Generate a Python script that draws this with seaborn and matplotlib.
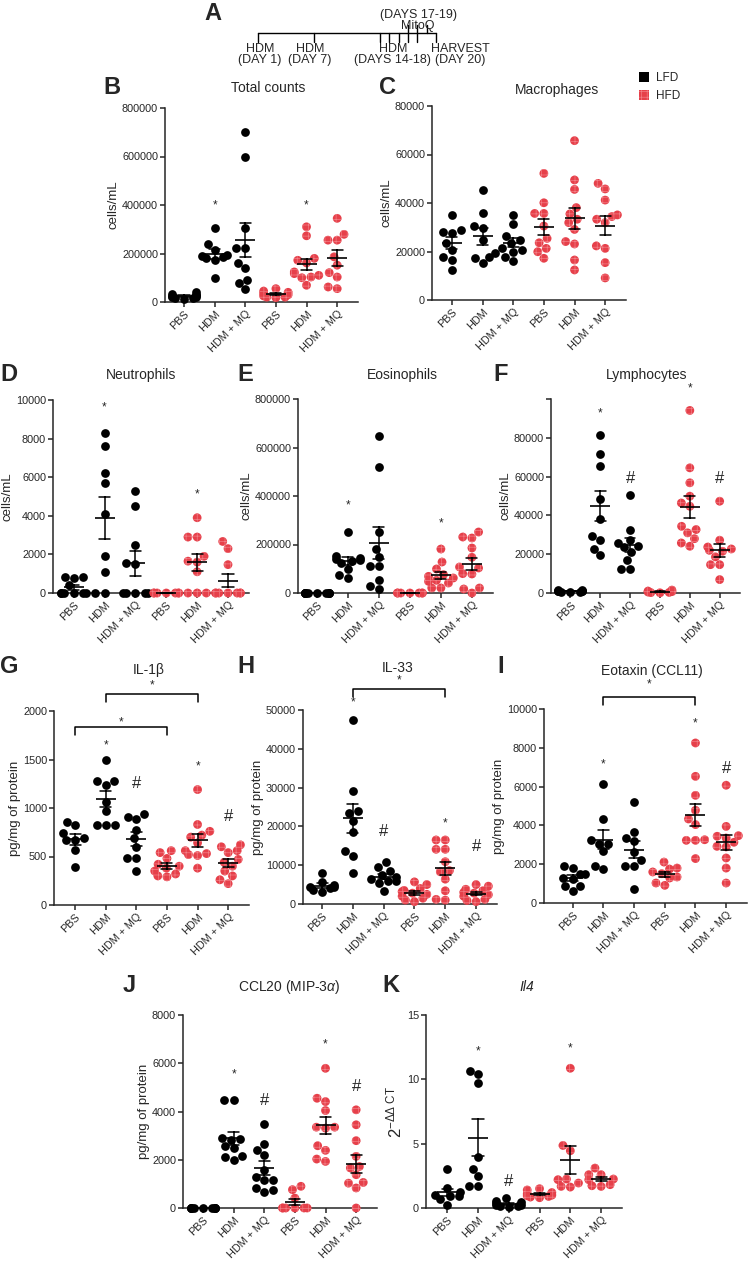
import warnings
import numpy as np
import pandas as pd
import matplotlib
matplotlib.use("Agg")
import matplotlib.pyplot as plt
from matplotlib.patches import Patch, Rectangle
import seaborn as sns

warnings.filterwarnings("ignore")

W, H = 750, 1268
RED = "#E6404A"
PINK = "#F27F86"

group_keys = ["LFD PBS", "LFD HDM", "LFD HDM+MQ", "HFD PBS", "HFD HDM", "HFD HDM+MQ"]
group_labels = ["PBS", "HDM", "HDM + MQ", "PBS", "HDM", "HDM + MQ"]

# timeline (panel A)
hdm_days = [1, 7, 14, 15, 16, 17, 18]
mitoq_days = [17, 18, 19]
harvest_day = 20

# values per group: LFD PBS, LFD HDM, LFD HDM+MQ, HFD PBS, HFD HDM, HFD HDM+MQ
total_counts = [
    [15000, 20000, 25000, 30000, 35000, 18000, 22000, 12000, 28000, 40000],
    [307000, 238000, 215000, 195000, 190000, 180000, 175000, 185000, 97000],
    [700000, 596000, 307000, 221000, 221000, 161000, 141000, 90000, 80000, 55000],
    [55000, 45000, 40000, 35000, 30000, 25000, 20000, 20000, 18000],
    [310000, 273000, 180000, 172000, 161000, 124000, 117000, 110000, 103000, 100000, 69000],
    [345000, 279000, 255000, 255000, 186000, 152000, 121000, 103000, 62000, 55000],
]
macrophages = [
    [35000, 29000, 28000, 27800, 23400, 20600, 17900, 16500, 12400],
    [45400, 35700, 30500, 29600, 24700, 19500, 17900, 17200, 15400],
    [35000, 31200, 26400, 24700, 23400, 21300, 20600, 19900, 17900, 16200],
    [52200, 40100, 35700, 35700, 30500, 25400, 23600, 21300, 19900, 17200],
    [65700, 49500, 45600, 38100, 35500, 33300, 31900, 29100, 24100, 23100, 16500, 12400],
    [48100, 45800, 41200, 35100, 34400, 33300, 31900, 22300, 21300, 15400, 9100],
]
neutrophils = [
    [850, 830, 800, 400, 0, 0, 0, 0, 0, 0],
    [8300, 7600, 6200, 5700, 4100, 1900, 1100, 0, 0],
    [5300, 4500, 2500, 1550, 1500, 0, 0, 0, 0, 0],
    [0, 0, 0, 0, 0, 0, 0],
    [3900, 2900, 2900, 1900, 1650, 1600, 1100, 0, 0, 0],
    [2670, 2300, 1470, 0, 0, 0, 0, 0, 0, 0],
]
eosinophils = [
    [1500, 1200, 1000, 800, 600, 500, 400, 300, 200, 100],
    [251600, 151200, 144300, 140200, 137500, 130600, 123700, 99000, 72800, 61900],
    [649000, 519600, 250200, 181400, 147100, 110000, 110000, 55000, 27500, 16500],
    [0, 0, 0, 0, 0, 0, 0],
    [181400, 127800, 99000, 75600, 68700, 61900, 52200, 48100, 41200, 20600, 20600],
    [251600, 231000, 226800, 185600, 147100, 107200, 103100, 79700, 78300, 20600, 16500, 0],
]
lymphocytes = [
    [1500, 1300, 1200, 1000, 900, 800, 700, 600, 500],
    [81200, 71400, 65700, 48200, 38200, 29600, 27200, 22900, 19800],
    [50750, 32700, 27500, 25800, 24100, 23700, 21000, 16900, 12600, 12600],
    [1500, 1000, 700, 500, 300, 200, 100],
    [94100, 64500, 56800, 49900, 46400, 44700, 34400, 32700, 31000, 28000, 25800, 24100],
    [47300, 27200, 23700, 22700, 22000, 21500, 18600, 14600, 14600, 6900],
]
il1b = [
    [858, 823, 738, 686, 669, 669, 566, 394],
    [1500, 1280, 1280, 1240, 1064, 970, 823, 823, 823],
    [937, 910, 882, 772, 686, 600, 487, 487, 353],
    [560, 540, 480, 420, 400, 380, 350, 320, 300, 290],
    [1190, 830, 760, 720, 700, 640, 560, 530, 520, 510, 380],
    [620, 600, 560, 540, 470, 440, 400, 350, 300, 260, 220],
]
il33 = [
    [8000, 5600, 5000, 4500, 4300, 4000, 3500, 3000],
    [47400, 29200, 24000, 23500, 21500, 18500, 13700, 12500, 8100],
    [10900, 9600, 8600, 7500, 6900, 6400, 6000, 5800, 5300, 3400],
    [5700, 5000, 4000, 3500, 3200, 2800, 2500, 2000, 1500, 1000, 600],
    [16500, 16500, 14100, 14100, 10900, 8600, 8300, 6400, 3400, 1200, 1000],
    [5000, 4600, 3800, 3400, 3000, 2800, 2400, 2000, 1200, 900, 600],
]
eotaxin = [
    [1920, 1800, 1510, 1500, 1290, 1240, 860, 860, 600],
    [6130, 4330, 3260, 3060, 3060, 2660, 1890, 1750],
    [5210, 3640, 3350, 3180, 2630, 2200, 1890, 1890, 720],
    [2110, 1800, 1750, 1600, 1510, 1340, 1290, 1030, 910],
    [8250, 6530, 5550, 4780, 4330, 4040, 3260, 3230, 3230, 2290],
    [6070, 3950, 3470, 3440, 3350, 3130, 2920, 2890, 2320, 1800, 1030],
]
ccl20 = [
    [0, 0, 0, 0, 0, 0, 0, 0, 0],
    [4460, 4460, 2920, 2860, 2830, 2550, 2480, 2140, 2110, 2000],
    [3490, 2650, 2410, 2210, 1590, 1280, 1170, 1140, 830, 760, 650],
    [900, 760, 410, 0, 0, 0, 0, 0, 0],
    [5790, 4550, 4410, 4040, 3350, 3350, 3310, 2580, 2390, 2030, 1930],
    [4070, 3450, 2790, 2140, 1720, 1660, 1380, 1060, 1030, 830, 0],
]
il4 = [
    [3.03, 1.55, 1.22, 1.03, 0.96, 0.9, 0.7, 0.26],
    [10.66, 10.4, 9.7, 3.96, 3.03, 2.46, 1.73, 1.68],
    [0.75, 0.55, 0.45, 0.35, 0.25, 0.2, 0.15, 0.15, 0.1],
    [1.5, 1.4, 1.2, 1.1, 1.0, 0.95, 0.9, 0.85, 0.8],
    [10.86, 4.86, 4.45, 2.25, 2.2, 1.94, 1.68, 1.63],
    [3.1, 2.59, 2.59, 2.25, 2.2, 1.81, 1.73, 1.68],
]

sns.set_style("ticks")
plt.rcParams["font.family"] = ["Liberation Sans", "DejaVu Sans"]
plt.rcParams["mathtext.fontset"] = "custom"
plt.rcParams["mathtext.rm"] = "Liberation Sans"
plt.rcParams["mathtext.it"] = "Liberation Sans:italic"
plt.rcParams["hatch.linewidth"] = 0.5
plt.rcParams["hatch.color"] = PINK

fig = plt.figure(figsize=(W / 100, H / 100), dpi=100)


def fx(x):
    return x / W


def fy(y):
    return 1 - y / H


def make_df(values):
    rows = []
    for key, vals in zip(group_keys, values):
        for v in vals:
            rows.append({"group": key, "diet": key[:3], "value": v})
    return pd.DataFrame(rows)


def draw_panel(box, values, ytop, step, ylabel, title, title_xy, letter, letter_xy,
               marks=(), brackets=(), xleft=-0.65, label_top=True, italic=False,
               ylabel_size=9.5):
    x0, y0, x1, y1 = box
    ax = fig.add_axes([fx(x0), fy(y1), fx(x1 - x0), (y1 - y0) / H])
    df = make_df(values)

    sns.swarmplot(data=df[df["diet"] == "LFD"], x="group", y="value", order=group_keys,
                  color="black", size=6.3, ax=ax)
    lfd_n = len(ax.collections)
    sns.swarmplot(data=df[df["diet"] == "HFD"], x="group", y="value", order=group_keys,
                  color=RED, size=6.3, ax=ax)
    # let points sit over the axis line, but keep them near the axes
    clip = Rectangle((-0.2, -0.2), 1.4, 1.4, transform=ax.transAxes, visible=False)
    ax.add_patch(clip)
    for i, coll in enumerate(ax.collections):
        coll.set_clip_path(clip)
        if i >= lfd_n:
            coll.set_edgecolor(PINK)
            coll.set_linewidth(0)
            coll.set_hatch("+++")

    sns.pointplot(data=df, x="group", y="value", order=group_keys, errorbar="se",
                  color="black", linestyle="none", marker="_", markersize=15,
                  markeredgewidth=1.2, capsize=0.36, err_kws={"linewidth": 1.1}, ax=ax)
    for line in ax.lines:
        line.set_clip_on(False)
        line.set_zorder(5)

    ax.set_xlim(xleft, 5.68)
    ax.set_ylim(0, ytop)
    ticks = np.arange(0, ytop + step / 2, step)
    ax.set_yticks(ticks)
    labels = [f"{int(t)}" for t in ticks]
    if not label_top:
        labels[-1] = ""
    ax.set_yticklabels(labels)
    ax.set_xticks(range(6))
    ax.set_xticklabels(group_labels, rotation=45, ha="right", rotation_mode="anchor")
    ax.set_xlabel("")
    ax.set_ylabel(ylabel, fontsize=ylabel_size, labelpad=1.5)
    sns.despine(ax=ax)
    for s in ["left", "bottom"]:
        ax.spines[s].set_linewidth(1.1)
    ax.tick_params(axis="both", labelsize=7.8, width=1.1, length=3.5, pad=1.5)

    for gi, y, sym in marks:
        fs = 8.5 if sym == "*" else 12
        ax.text(gi, y, sym, ha="center", va="center", fontsize=fs, clip_on=False)
    for g0, g1, ybar, ytip, ystar in brackets:
        ax.plot([g0, g0, g1, g1], [ytip, ybar, ybar, ytip], color="black", lw=1.1,
                clip_on=False)
        ax.text((g0 + g1) / 2, ystar, "*", ha="center", va="center", fontsize=8.5,
                clip_on=False)

    fig.text(fx(title_xy[0]), fy(title_xy[1]), title, ha="center", va="center",
             fontsize=10, style="italic" if italic else "normal")
    fig.text(fx(letter_xy[0]), fy(letter_xy[1]), letter, ha="left", va="center",
             fontsize=17, fontweight="bold")
    return ax


# panel A: timeline
tax = fig.add_axes([fx(258), fy(70), fx(436 - 258), 70 / H])
tax.set_xlim(1, 20)
tax.set_ylim(70, 0)
tax.axis("off")
tax.plot([hdm_days[0], harvest_day], [33, 33], color="black", lw=1, clip_on=False)
for d in hdm_days + [harvest_day]:
    tax.plot([d, d], [33, 42], color="black", lw=1, clip_on=False)
for d in mitoq_days:
    tax.plot([d, d], [33, 25], color="black", lw=1, clip_on=False)
tkw = dict(fontsize=9, ha="center", va="top", linespacing=0.9, clip_on=False)
tax.text(hdm_days[0] + 0.2, 42.5, "HDM\n(DAY 1)", **tkw)
tax.text(hdm_days[1] - 0.45, 42.5, "HDM\n(DAY 7)", **tkw)
tax.text(15.4, 42.5, "HDM\n(DAYS 14-18)", **tkw)
tax.text(harvest_day + 2.55, 42.5, "HARVEST\n(DAY 20)", **tkw)
tax.text(18.1, 32, "(DAYS 17-19)\nMitoQ", fontsize=9, ha="center", va="bottom",
         linespacing=0.9, clip_on=False)
fig.text(fx(204), fy(14), "A", ha="left", va="center", fontsize=17, fontweight="bold")

draw_panel((165, 108, 358, 302), total_counts, 800000, 200000, "cells/mL",
           "Total counts", (268, 88), "B", (103, 88),
           marks=[(1, 400000, "*"), (4, 400000, "*")], xleft=-0.62)
draw_panel((432, 106, 626, 300), macrophages, 80000, 20000, "cells/mL",
           "Macrophages", (557, 90), "C", (379, 88))
draw_panel((53, 400, 249, 593), neutrophils, 10000, 2000, "cells/mL",
           "Neutrophils", (141, 375), "D", (0, 375),
           marks=[(1, 9620, "*"), (4, 5090, "*")], xleft=-0.67)
draw_panel((298, 399, 493, 593), eosinophils, 800000, 200000, "cells/mL",
           "Eosinophils", (402, 375), "E", (237, 375),
           marks=[(1, 360000, "*"), (4, 288700, "*")], xleft=-0.61)
draw_panel((551, 399, 740, 593), lymphocytes, 100000, 20000, "cells/mL",
           "Lymphocytes", (647, 375), "F", (493, 375),
           marks=[(1, 92400, "*"), (4, 105300, "*"), (2, 58800, "#"), (5, 58800, "#")],
           label_top=False)
draw_panel((54, 711, 249, 905), il1b, 2000, 500, "pg/mg of protein",
           "IL-1β", (149, 670), "G", (0, 667),
           marks=[(1, 1647, "*"), (2, 1252, "#"), (4, 1424, "*"), (5, 909, "#")],
           brackets=[(1, 4, 2175, 2093, 2268), (0, 3, 1835, 1753, 1887)], xleft=-0.69)
draw_panel((303, 710, 497, 904), il33, 50000, 10000, "pg/mg of protein",
           "IL-33", (398, 668), "H", (237, 667),
           marks=[(1, 51900, "*"), (2, 18600, "#"), (4, 20800, "*"), (5, 14800, "#")],
           brackets=[(1, 4, 55400, 53350, 57700)], xleft=-0.62)
draw_panel((544, 709, 747, 903), eotaxin, 10000, 2000, "pg/mg of protein",
           "Eotaxin (CCL11)", (652, 671), "I", (497, 667),
           marks=[(1, 7160, "*"), (4, 9280, "*"), (5, 6920, "#")],
           brackets=[(1, 4, 10620, 10200, 11290)], xleft=-0.94)
draw_panel((183, 1015, 377, 1208), ccl20, 8000, 2000, "pg/mg of protein",
           r"CCL20 (MIP-3$\alpha$)", (289, 987), "J", (123, 985),
           marks=[(1, 5520, "*"), (2, 4440, "#"), (4, 6800, "*"), (5, 5030, "#")])
draw_panel((426, 1015, 622, 1208), il4, 15, 5, r"$2^{-\Delta\Delta\ \mathrm{CT}}$",
           "Il4", (527, 987), "K", (382, 985),
           marks=[(1, 12.2, "*"), (2, 2.07, "#"), (4, 12.4, "*")], xleft=-0.69,
           italic=True, ylabel_size=12)

fig.legend(handles=[Patch(facecolor="black", edgecolor="black", linewidth=0, label="LFD"),
                    Patch(facecolor=RED, edgecolor=PINK, linewidth=0, hatch="+++",
                          label="HFD")],
           loc="upper left", bbox_to_anchor=(fx(634), fy(67)), frameon=False, fontsize=8.5,
           handlelength=0.9, handleheight=0.9, handletextpad=0.6, labelspacing=0.55,
           borderaxespad=0)

fig.savefig("out.png", dpi=100)
